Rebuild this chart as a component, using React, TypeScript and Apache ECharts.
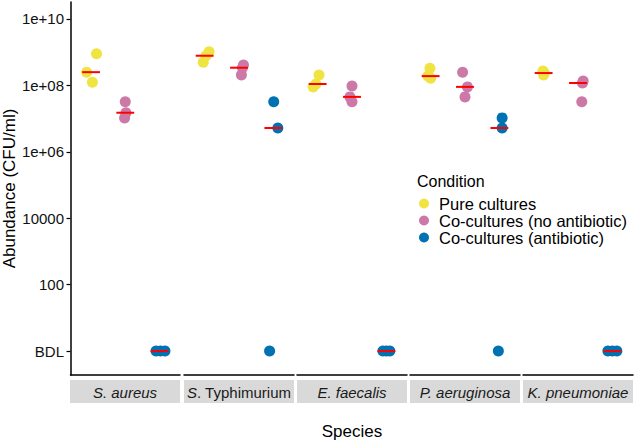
import React, { useEffect, useRef } from "react";
import * as echarts from "echarts";

// Species (facets) and conditions
const species = ["S. aureus", "S. Typhimurium", "E. faecalis", "P. aeruginosa", "K. pneumoniae"];
const speciesLabels = [
  "{i|S. aureus}",
  "{i|S}{n|. Typhimurium}",
  "{i|E. faecalis}",
  "{i|P. aeruginosa}",
  "{i|K. pneumoniae}",
];
const conditions = ["Pure cultures", "Co-cultures (no antibiotic)", "Co-cultures (antibiotic)"];
const colors = ["#F0E442", "#CC79A7", "#0072B2"];

// Abundance (CFU/ml); null = below detection limit (BDL)
const pureValues = [
  [2.5e8, 9e8, 1.25e8],
  [5e8, 1.02e9, 7.8e8],
  [2.05e8, 1.1e8, 9e7],
  [3.3e8, 1.9e8, 1.65e8],
  [2.7e8, 2.35e8, 2.05e8],
];
const coNoAbValues = [
  [3.2e7, 1.5e7, 1.05e7],
  [4.1e8, 3.4e8, 2.05e8],
  [9.5e7, 4.5e7, 3.2e7],
  [2.5e8, 9e7, 4.5e7],
  [1.35e8, 1.18e8, 3.2e7],
];
const coAbValues: (number | null)[][] = [
  [null, null, null],
  [3.2e7, 5.2e6, null],
  [null, null, null],
  [1.05e7, 5.2e6, null],
  [null, null, null],
];
// horizontal jitter (in category units)
const pureJitter = [
  [-0.13, 0.16, 0.04],
  [-0.04, 0.13, 0.04],
  [0.04, -0.05, -0.13],
  [-0.02, -0.08, 0.0],
  [-0.02, 0.02, 0.0],
];
const coNoAbJitter = [
  [0.0, 0.02, -0.02],
  [0.13, 0.1, 0.07],
  [0.0, -0.06, 0.0],
  [-0.07, 0.07, 0.0],
  [0.15, 0.13, 0.11],
];
const coAbJitter = [
  [-0.1, 0.16, 0.03],
  [0.01, 0.13, -0.11],
  [-0.1, 0.1, 0.0],
  [0.08, 0.08, -0.03],
  [-0.13, 0.13, 0.0],
];

const yTickValues = [0, 2, 4, 6, 8, 10];
const yTickLabels = ["BDL", "100", "10000", "1e+06", "1e+08", "1e+10"];

const FONT = "'Liberation Sans', Arial, Helvetica, sans-serif";

const toLog = (v: number | null) => (v === null ? 0 : Math.log10(v));
const median = (arr: number[]) => {
  const s = [...arr].sort((a, b) => a - b);
  const n = s.length;
  return n % 2 ? s[(n - 1) / 2] : (s[n / 2 - 1] + s[n / 2]) / 2;
};

const panelLefts = [70, 184, 297, 410, 523];
const panelWidth = 110;
const gridTop = 2;
const gridBottomY = 375;

export default function App() {
  const ref = useRef<HTMLDivElement>(null);
  useEffect(() => {
    if (!ref.current) return;
    const chart = echarts.init(ref.current, undefined, { renderer: "svg" });
    const allValues = [pureValues, coNoAbValues, coAbValues];
    const allJitter = [pureJitter, coNoAbJitter, coAbJitter];

    const grids = panelLefts.map((l) => ({
      left: l,
      top: gridTop,
      width: panelWidth,
      height: gridBottomY - gridTop,
    }));
    const xAxes = panelLefts.map((_, i) => ({
      type: "value",
      gridIndex: i,
      min: 0.4,
      max: 3.6,
      axisLine: { show: true, onZero: false, lineStyle: { color: "#000", width: 1.5 } },
      axisTick: { show: false },
      axisLabel: { show: false },
      splitLine: { show: false },
    }));
    const yAxes = panelLefts.map((_, i) => ({
      type: "value",
      gridIndex: i,
      min: -0.72,
      max: 10.51,
      show: i === 0,
      name: i === 0 ? "Abundance (CFU/ml)" : "",
      nameLocation: "middle",
      nameRotate: 90,
      nameGap: 50,
      nameTextStyle: { fontFamily: FONT, fontSize: 17, color: "#000" },
      axisLine: { show: i === 0, onZero: false, lineStyle: { color: "#000", width: 1.5 } },
      axisTick: {
        show: i === 0,
        length: 4,
        customValues: yTickValues,
        lineStyle: { color: "#000", width: 1.2 },
      },
      axisLabel: {
        show: i === 0,
        customValues: yTickValues,
        margin: 6.5,
        fontFamily: FONT,
        fontSize: 15,
        color: "#111",
        formatter: (v: number) => {
          const k = yTickValues.indexOf(Math.round(v));
          return k >= 0 ? yTickLabels[k] : "";
        },
      },
      splitLine: { show: false },
    }));

    const series: any[] = [];
    conditions.forEach((cond, c) => {
      species.forEach((_, i) => {
        const vals = allValues[c][i];
        const jit = allJitter[c][i];
        series.push({
          type: "scatter",
          name: cond,
          xAxisIndex: i,
          yAxisIndex: i,
          symbol: "circle",
          symbolSize: 11,
          itemStyle: { color: colors[c], opacity: 1 },
          emphasis: { disabled: true },
          z: 2,
          data: vals.map((v, k) => [c + 1 + jit[k], toLog(v)]),
        });
      });
    });
    conditions.forEach((_, c) => {
      species.forEach((__, i) => {
        const m = median(allValues[c][i].map(toLog));
        series.push({
          type: "line",
          name: "median",
          xAxisIndex: i,
          yAxisIndex: i,
          symbol: "none",
          z: 5,
          lineStyle: { color: "#FF0000", width: 2 },
          emphasis: { disabled: true },
          data: [
            [c + 1 - 0.26, m],
            [c + 1 + 0.26, m],
          ],
        });
      });
    });

    const graphics: any[] = [];
    panelLefts.forEach((l, i) => {
      graphics.push({
        type: "rect",
        shape: { x: l, y: 380, width: panelWidth, height: 23 },
        style: { fill: "#D9D9D9" },
        silent: true,
      });
      graphics.push({
        type: "text",
        x: l + panelWidth / 2,
        y: 392,
        style: {
          text: speciesLabels[i],
          align: "center",
          verticalAlign: "middle",
          fontFamily: FONT,
          fontSize: 15,
          fill: "#1a1a1a",
          rich: {
            i: { fontStyle: "italic", fontFamily: FONT, fontSize: 15, fill: "#1a1a1a" },
            n: { fontStyle: "normal", fontFamily: FONT, fontSize: 15, fill: "#1a1a1a" },
          },
        },
        silent: true,
      });
    });
    graphics.push({
      type: "text",
      x: 352,
      y: 431,
      style: {
        text: "Species",
        align: "center",
        verticalAlign: "middle",
        fontFamily: FONT,
        fontSize: 17,
        fill: "#000",
      },
    });
    graphics.push({
      type: "text",
      x: 417,
      y: 181,
      style: {
        text: "Condition",
        align: "left",
        verticalAlign: "middle",
        fontFamily: FONT,
        fontSize: 16,
        fill: "#000",
      },
    });

    chart.setOption({
      animation: false,
      grid: grids,
      xAxis: xAxes,
      yAxis: yAxes,
      legend: {
        data: conditions,
        orient: "vertical",
        left: 419,
        top: 195,
        padding: 0,
        itemGap: 0,
        itemWidth: 10,
        itemHeight: 10,
        icon: "circle",
        selectedMode: false,
        textStyle: {
          fontFamily: FONT,
          fontSize: 16.5,
          lineHeight: 15.5,
          color: "#000",
          padding: [0, 0, 0, 5],
        },
      },
      graphic: graphics,
      series,
    });
    return () => chart.dispose();
  }, []);
  return (
    <div
      ref={ref}
      style={{ position: "absolute", left: 0, top: 0, width: 636, height: 441, background: "#fff" }}
    />
  );
}
